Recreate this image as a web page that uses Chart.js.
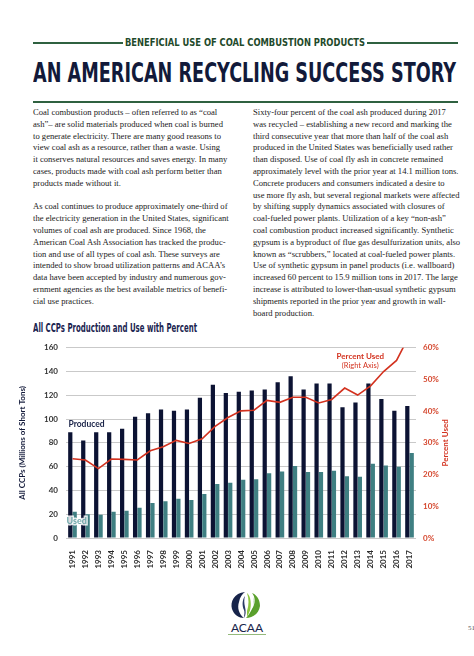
<!DOCTYPE html>
<html>
<head>
<meta charset="utf-8">
<script src="https://cdn.jsdelivr.net/npm/chart.js@4.4.1/dist/chart.umd.min.js"></script>
<style>
  html, body { margin: 0; padding: 0; background: #fff; }
  body { width: 474px; height: 656px; position: relative; overflow: hidden; }
  .abs { position: absolute; }
  .cond { font-family: "Liberation Sans Narrow", "DejaVu Sans Condensed", "Roboto", sans-serif; font-weight: bold; white-space: nowrap; line-height: 1; }
  .rule { position: absolute; background: #2f6140; height: 1.5px; }
  .col { position: absolute; font-family: "Liberation Serif", "DejaVu Serif", serif; font-size: 8.6px; line-height: 11.8px; color: #1a1a1a; white-space: nowrap; }
  .col p { margin: 0 0 11.8px 0; }
</style>
</head>
<body>

<!-- header -->
<div class="rule" style="left:33px; top:42px; width:90px;"></div>
<div class="rule" style="left:367px; top:42px; width:91px;"></div>
<div id="kicker" class="abs cond" style="left:125px; top:37px; font-size:10.5px; color:#1f4a2b;">BENEFICIAL USE OF COAL COMBUSTION PRODUCTS</div>
<div id="title" class="abs cond" style="left:33px; top:60px; font-size:26px; color:#121a3a;">AN AMERICAN RECYCLING SUCCESS STORY</div>
<div class="rule" style="left:33px; top:101px; width:425px;"></div>

<!-- body text -->
<div class="col" style="left:33px; top:107px;">
<p>Coal combustion products – often referred to as “coal<br>ash”– are solid materials produced when coal is burned<br>to generate electricity.  There are many good reasons to<br>view coal ash as a resource, rather than a waste. Using<br>it conserves natural resources and saves energy. In many<br>cases, products made with coal ash perform better than<br>products made without it.</p>
<p>As coal continues to produce approximately one-third of<br>the electricity generation in the United States, significant<br>volumes of coal ash are produced. Since 1968, the<br>American Coal Ash Association has tracked the produc-<br>tion and use of all types of coal ash. These surveys are<br>intended to show broad utilization patterns and ACAA’s<br>data have been accepted by industry and numerous gov-<br>ernment agencies as the best available metrics of benefi-<br>cial use practices.</p>
</div>
<div class="col" style="left:253px; top:107px;">
<p>Sixty-four percent of the coal ash produced during 2017<br>was recycled – establishing a new record and marking the<br>third consecutive year that more than half of the coal ash<br>produced in the United States was beneficially used rather<br>than disposed. Use of coal fly ash in concrete remained<br>approximately level with the prior year at 14.1 million tons.<br>Concrete producers and consumers indicated a desire to<br>use more fly ash, but several regional markets were affected<br>by shifting supply dynamics associated with closures of<br>coal-fueled power plants. Utilization of a key “non-ash”<br>coal combustion product increased significantly. Synthetic<br>gypsum is a byproduct of flue gas desulfurization units, also<br>known as “scrubbers,” located at coal-fueled power plants.<br>Use of synthetic gypsum in panel products (i.e. wallboard)<br>increased 60 percent to 15.9 million tons in 2017. The large<br>increase is attributed to lower-than-usual synthetic gypsum<br>shipments reported in the prior year and growth in wall-<br>board production.</p>
</div>

<!-- chart -->
<div id="chartTitle" class="abs cond" style="left:33px; top:321px; font-size:13px; color:#1b2450;">All CCPs Production and Use with Percent</div>
<div class="abs" style="left:0; top:335px; width:474px; height:240px;">
  <canvas id="ccpChart" width="474" height="240"></canvas>
</div>

<!-- logo -->
<svg class="abs" style="left:222px; top:590px;" width="50" height="48" viewBox="0 0 50 48">
  <path d="M23 2 C12 3 8 12 10 19 C12 25 17 28 22 28 C17 24 15 18 17 12 C18 7 20 4 23 2 Z" fill="#17244a"/>
  <path d="M23 6 C20 10 20 16 22 20 C23 22 22 25 22 28 C24 25 24 21 23 17 C22 13 22 9 23 6 Z" fill="#2a3a66"/>
  <path d="M24 28 C30 28 37 24 38 16 C38 10 35 5 30 3 C34 8 33 14 30 19 C28 23 26 26 24 28 Z" fill="#5aa02c"/>
  <path d="M25 27 C28 22 30 16 28 8 C27 5 26 4 25 3 C27 9 27 15 25 21 Z" fill="#8cc63f"/>
  <path d="M26 27 C31 22 33 16 31 7 C33 13 32 20 26 27 Z" fill="#3f8a2a"/>
  <text x="25" y="42" text-anchor="middle" font-family="Lato, 'Open Sans', sans-serif" font-size="12" fill="#17244a">ACAA</text>
  <rect x="6" y="44" width="38" height="0.8" fill="#7aa85a"/>
</svg>
<div class="abs" style="left:468px; top:624px; font-family:'Liberation Serif',serif; font-size:7px; color:#555;">51</div>

<script>
// stretch condensed headline text to the widths seen in the layout
function fitWidth(id, w) {
  const el = document.getElementById(id);
  el.style.transformOrigin = 'left top';
  const cur = el.getBoundingClientRect().width;
  el.style.transform = 'scaleX(' + (w / cur) + ')';
}
fitWidth('kicker', 240);
fitWidth('title', 423);
fitWidth('chartTitle', 164);

// data
const years = ['1991','1992','1993','1994','1995','1996','1997','1998','1999','2000',
  '2001','2002','2003','2004','2005','2006','2007','2008','2009','2010',
  '2011','2012','2013','2014','2015','2016','2017'];
const produced = [89, 82, 89, 89, 92, 102, 105, 108, 107, 108,
  118, 129, 122, 123, 124, 125, 131, 136, 125, 130,
  130, 110, 114, 130, 117, 107, 111];
const used = [22, 20, 19.5, 22, 23, 25.5, 29.5, 31, 33, 32,
  37, 45.5, 46.5, 49, 49.5, 54.5, 56, 60.5, 55.5, 55.5,
  56.5, 52, 51.5, 62.5, 61, 60, 71.5];
const percentUsed = [25, 24.6, 21.9, 24.9, 24.8, 24.6, 27.5, 28.8, 30.8, 29.8,
  31.3, 35.2, 38, 40.1, 40.3, 43.4, 42.8, 44.4, 44.4, 42.6,
  43.7, 47.3, 45.1, 48, 52.5, 56, 64];
const leftTicks = [0, 20, 40, 60, 80, 100, 120, 140, 160];
const rightTicks = [0, 10, 20, 30, 40, 50, 60];

const navy = '#0c1333';
const teal = '#3f7f82';
const red = '#d3321f';
const axisFont = { family: 'Lato, "Open Sans", sans-serif', size: 8, weight: 'bold' };

// text notes inside the plot
const notes = {
  id: 'notes',
  afterDatasetsDraw(chart) {
    const { ctx, scales: { x, y, y2 } } = chart;
    ctx.save();
    ctx.textBaseline = 'middle';
    ctx.font = 'bold 8.5px Lato, "Open Sans", sans-serif';
    ctx.fillStyle = '#1a2348';
    ctx.textAlign = 'left';
    ctx.fillText('Produced', x.getPixelForValue(0) - 4, y.getPixelForValue(96));

    ctx.font = 'bold 9px Lato, "Open Sans", sans-serif';
    ctx.lineWidth = 3;
    ctx.strokeStyle = 'rgba(255,255,255,0.85)';
    ctx.strokeText('Used', x.getPixelForValue(0) - 6, y.getPixelForValue(14));
    ctx.fillStyle = '#6fa7a9';
    ctx.fillText('Used', x.getPixelForValue(0) - 6, y.getPixelForValue(14));

    ctx.textAlign = 'center';
    ctx.fillStyle = red;
    const cx = x.getPixelForValue(22.2);
    ctx.font = 'bold 8px Lato, "Open Sans", sans-serif';
    ctx.fillText('Percent Used', cx, y2.getPixelForValue(57.3));
    ctx.font = '7.5px Lato, "Open Sans", sans-serif';
    ctx.fillText('(Right Axis)', cx, y2.getPixelForValue(54.5));

    // right axis title, read bottom to top
    const ca = chart.chartArea;
    ctx.save();
    ctx.translate(445, (ca.top + ca.bottom) / 2);
    ctx.rotate(-Math.PI / 2);
    ctx.font = 'bold 8px Lato, "Open Sans", sans-serif';
    ctx.fillStyle = red;
    ctx.fillText('Percent Used', 0, 0);
    ctx.restore();
    ctx.restore();
  }
};

new Chart(document.getElementById('ccpChart'), {
  type: 'bar',
  data: {
    labels: years,
    datasets: [
      { type: 'line', label: 'Percent Used', data: percentUsed, yAxisID: 'y2',
        borderColor: red, borderWidth: 1.6, pointRadius: 0, tension: 0, order: 0 },
      { label: 'Produced', data: produced, yAxisID: 'y', backgroundColor: navy,
        categoryPercentage: 0.68, barPercentage: 0.96, order: 1 },
      { label: 'Used', data: used, yAxisID: 'y', backgroundColor: teal,
        categoryPercentage: 0.68, barPercentage: 0.96, order: 1 }
    ]
  },
  options: {
    responsive: false,
    animation: false,
    layout: { padding: { top: 8, left: 0, right: 0, bottom: 0 } },
    plugins: { legend: { display: false }, tooltip: { enabled: false } },
    scales: {
      x: {
        grid: { display: false },
        border: { display: false },
        ticks: { autoSkip: false, minRotation: 90, maxRotation: 90, padding: 4,
          color: '#2a2a2a', font: axisFont },
        afterFit(s) { s.height = 37; }
      },
      y: {
        position: 'left', min: 0, max: 160,
        afterBuildTicks(s) { s.ticks = leftTicks.map(v => ({ value: v })); },
        grid: { color: '#c9c9c9', lineWidth: 1, drawTicks: false },
        border: { display: false },
        ticks: { padding: 8, color: '#333', font: axisFont },
        title: { display: true, text: 'All CCPs (Millions of Short Tons)', color: '#141b3b',
          font: axisFont, padding: { top: 18, bottom: 0 } },
        afterFit(s) { s.width = 66; }
      },
      y2: {
        position: 'right', min: 0, max: 60,
        afterBuildTicks(s) { s.ticks = rightTicks.map(v => ({ value: v })); },
        grid: { display: false, drawTicks: false },
        border: { display: false },
        ticks: { padding: 7, color: '#d5472e', font: axisFont, callback: v => v + '%' },
        afterFit(s) { s.width = 58; }
      }
    }
  },
  plugins: [notes]
});
</script>
</body>
</html>
